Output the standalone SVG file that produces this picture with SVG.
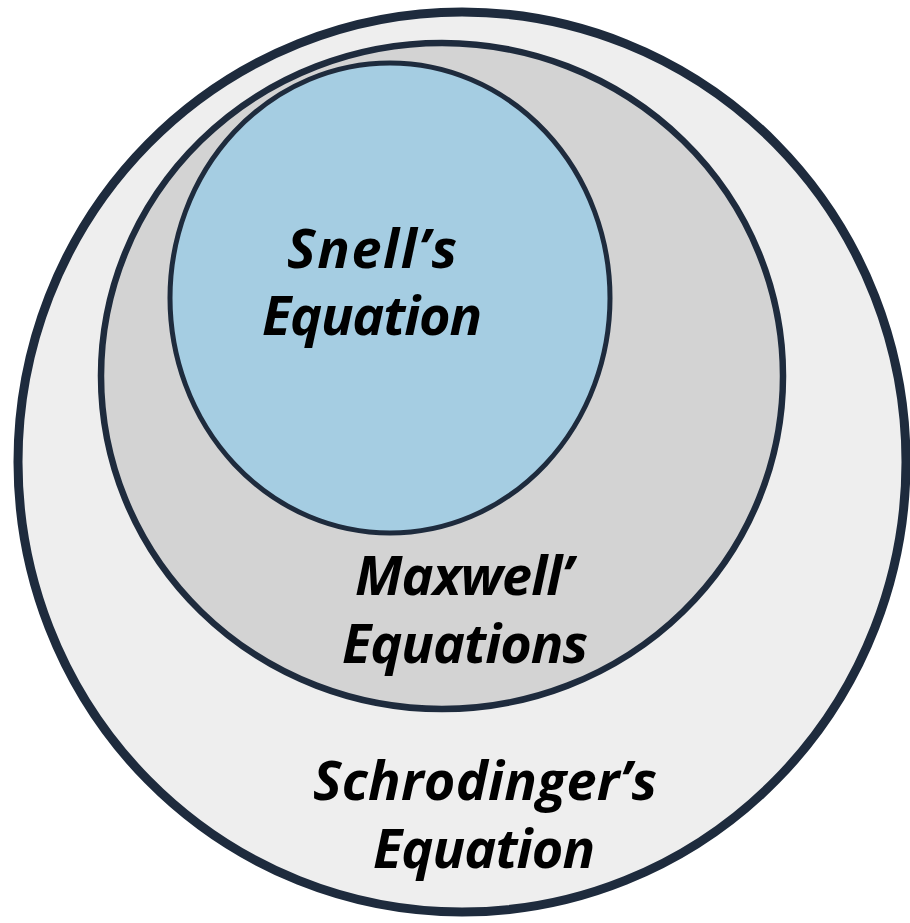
<svg xmlns="http://www.w3.org/2000/svg" width="910" height="923" viewBox="0 0 910 923">
<style>
.ring{stroke:#1e2b3d;stroke-linejoin:round}
.lbl{font-family:"Open Sans","Noto Sans","DejaVu Sans",sans-serif;font-style:italic;font-weight:700;font-size:54px;fill:#000;text-anchor:middle}
</style>
<rect width="910" height="923" fill="#ffffff"/>
<g id="schrodinger">
<ellipse class="ring" cx="462" cy="462" rx="444" ry="450" fill="#eeeeee" stroke-width="9"/>
<text class="lbl" x="485" y="800" textLength="344">Schrodinger’s</text>
<text class="lbl" x="484" y="868" textLength="222">Equation</text>
</g>
<g id="maxwell">
<ellipse class="ring" cx="442" cy="376" rx="341" ry="333" fill="#d3d3d3" stroke-width="6.5"/>
<text class="lbl" x="464" y="595" textLength="218">Maxwell’</text>
<text class="lbl" x="465" y="663" textLength="246">Equations</text>
</g>
<g id="snell">
<ellipse class="ring" cx="390" cy="298" rx="220" ry="235" fill="#a5cde2" stroke-width="5"/>
<text class="lbl" x="372" y="268" textLength="170">Snell’s</text>
<text class="lbl" x="372" y="335" textLength="220">Equation</text>
</g>
<g id="connectors"/>
</svg>
